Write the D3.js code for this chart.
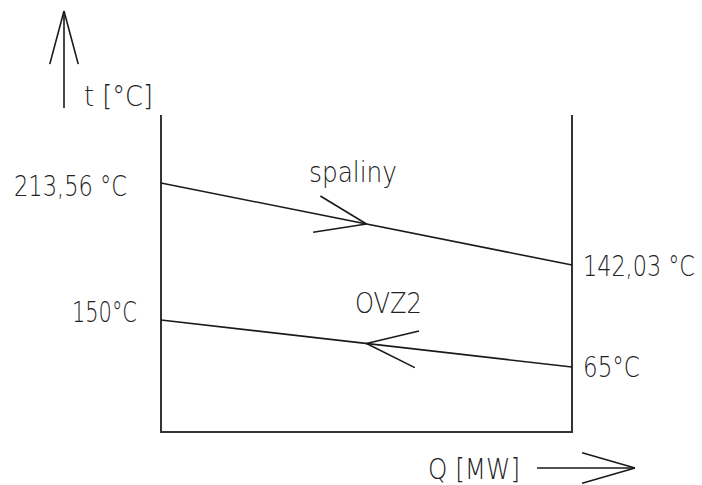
<!DOCTYPE html>
<html lang="en">
<head>
<meta charset="UTF-8">
<title>t-Q diagram</title>
<script src="https://d3js.org/d3.v7.min.js"></script>
<style>
  html, body { margin: 0; padding: 0; background: #fff; }
  svg text { font-family: "DejaVu Sans", sans-serif; font-weight: 200; fill: #222; }
</style>
</head>
<body>
<svg id="chart" width="702" height="485"></svg>
<script>
// Data
const seriesNames = ['spaliny', 'OVZ2'];
const qValues = [0, 1];                      // relative heat flow (start, end)
const spalinyTemps = [213.56, 142.03];       // flue gas in -> out
const ovz2Temps = [150, 65];                 // water out <- in
const tempLabels = ['213,56 °C', '142,03 °C', '150°C', '65°C'];
const axisLabels = ['t [°C]', 'Q [MW]'];

const svg = d3.select('#chart');

// Frame of the exchanger
const frame = { left: 161, right: 572, top: 115, bottom: 432 };
const x = d3.scaleLinear().domain(d3.extent(qValues)).range([frame.left, frame.right]);

// schematic: each stream has its own vertical scale
const ySpaliny = d3.scaleLinear().domain(d3.extent(spalinyTemps)).range([265, 183]);
const yOvz = d3.scaleLinear().domain(d3.extent(ovz2Temps)).range([367, 320]);

const ink = '#1a1a1a';

svg.append('path')
  .attr('d', `M${frame.left},${frame.top}V${frame.bottom}H${frame.right}V${frame.top}`)
  .attr('fill', 'none').attr('stroke', '#333').attr('stroke-width', 2);

const line = yScale => d3.line().x(d => x(d[0])).y(d => yScale(d[1]));

const streams = [
  { name: seriesNames[0], temps: spalinyTemps, y: ySpaliny, dir: 1 },
  { name: seriesNames[1], temps: ovz2Temps, y: yOvz, dir: -1 }
];

streams.forEach(s => {
  const pts = qValues.map((q, i) => [q, s.temps[i]]);
  svg.append('path')
    .attr('d', line(s.y)(pts))
    .attr('fill', 'none').attr('stroke', ink).attr('stroke-width', 1.6);

  // flow direction arrow in the middle of the line
  const p0 = [x(qValues[0]), s.y(s.temps[0])];
  const p1 = [x(qValues[1]), s.y(s.temps[1])];
  const t = 0.5;
  const tip = [p0[0] + (p1[0] - p0[0]) * t, p0[1] + (p1[1] - p0[1]) * t];
  let ang = Math.atan2(p1[1] - p0[1], p1[0] - p0[0]);
  if (s.dir < 0) ang += Math.PI;
  drawBarbs(tip, ang, 54, 20);
});

function drawBarbs(tip, ang, len, spread) {
  const back = ang + Math.PI;
  const sp = spread * Math.PI / 180;
  [-sp, sp].forEach(a => {
    svg.append('line')
      .attr('x1', tip[0]).attr('y1', tip[1])
      .attr('x2', tip[0] + len * Math.cos(back + a))
      .attr('y2', tip[1] + len * Math.sin(back + a))
      .attr('stroke', ink).attr('stroke-width', 1.6);
  });
}

// axis arrows
svg.append('line').attr('x1', 64).attr('y1', 108).attr('x2', 64).attr('y2', 11)
  .attr('stroke', ink).attr('stroke-width', 1.6);
drawBarbs([64, 11], -Math.PI / 2, 55, 15);
svg.append('line').attr('x1', 537).attr('y1', 468).attr('x2', 635).attr('y2', 468)
  .attr('stroke', ink).attr('stroke-width', 1.6);
drawBarbs([635, 468], 0, 55, 16);

// texts: [text, x, baseline, width] -- narrow drafting font, so squeeze horizontally
const texts = [
  [axisLabels[0], 84, 106, 69],
  [axisLabels[1], 428, 479, 92],
  [tempLabels[0], 14, 196, 113],
  [tempLabels[1], 583, 276, 112],
  [tempLabels[2], 72, 322, 65],
  [tempLabels[3], 583, 377, 57],
  [seriesNames[0], 309, 182, 88],
  [seriesNames[1], 355, 313, 67]
];

svg.selectAll('text.lbl').data(texts).enter().append('text')
  .attr('class', 'lbl')
  .attr('font-size', 28)
  .text(d => d[0])
  .each(function(d) {
    const w = this.getComputedTextLength();
    const sx = w > 0 ? d[3] / w : 1;
    d3.select(this).attr('transform', `translate(${d[1]},${d[2]}) scale(${sx},1)`);
  });
</script>
</body>
</html>
